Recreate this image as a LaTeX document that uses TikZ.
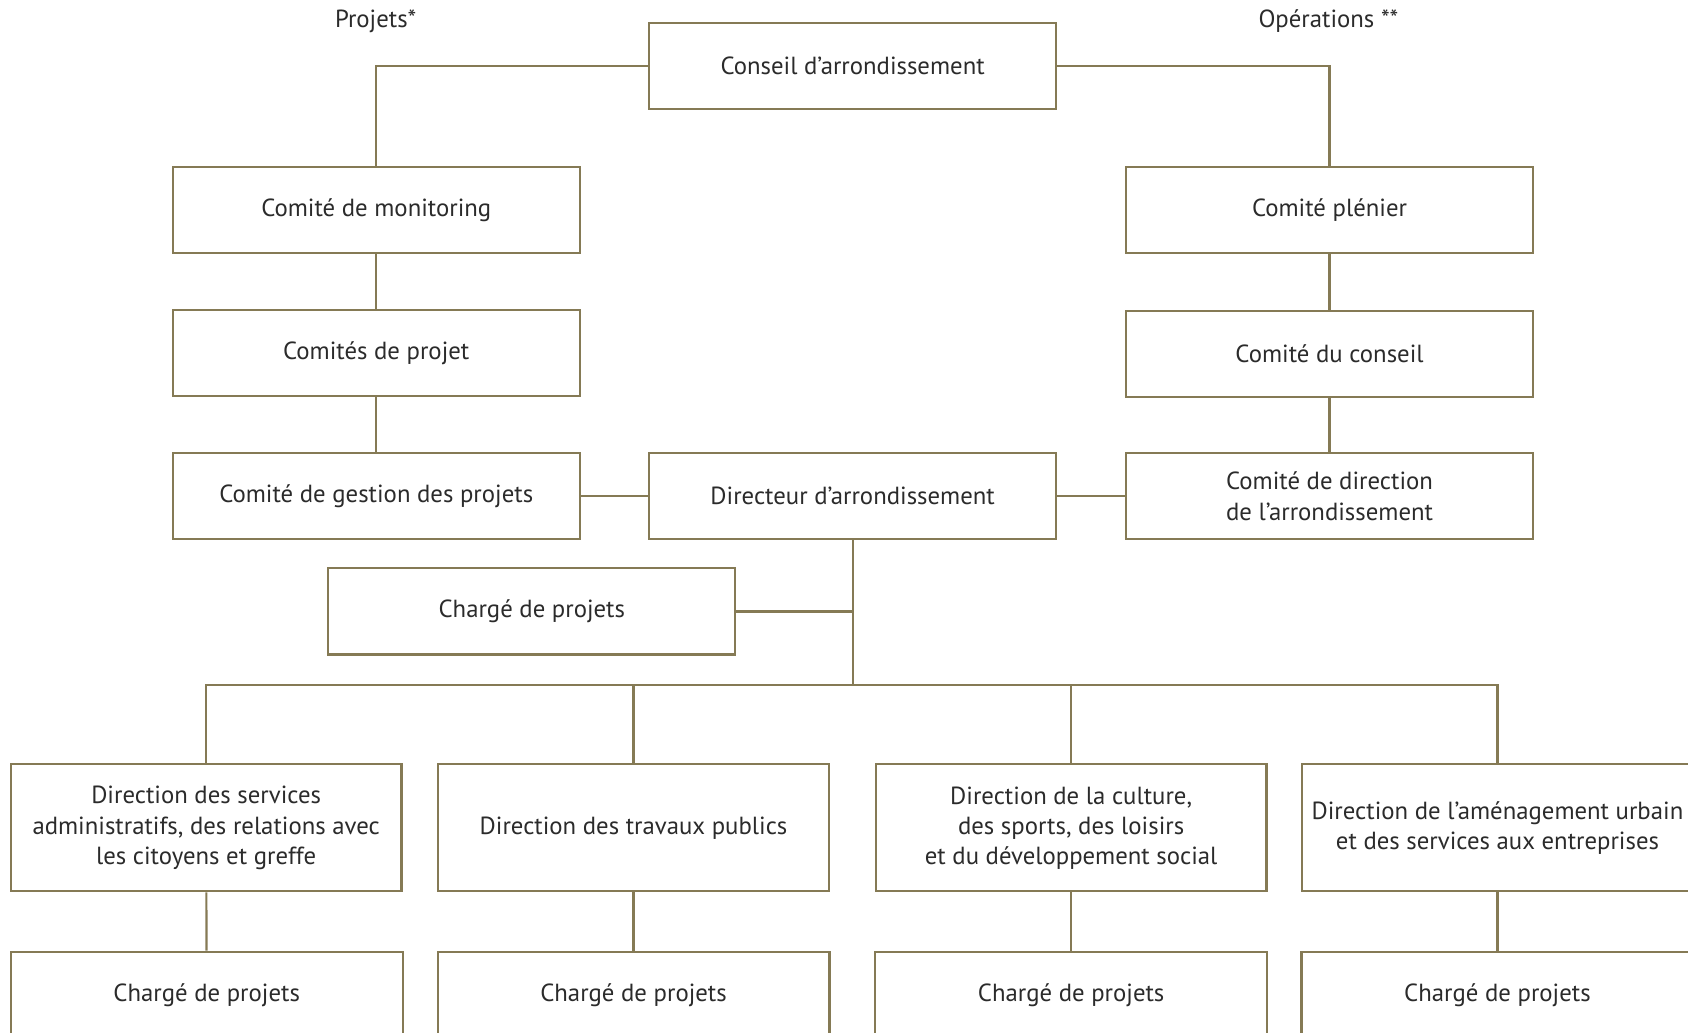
\documentclass[tikz,border=0pt]{standalone}
\usepackage{fontspec}
\setmainfont{PT Sans}
\usepackage{tikz,xcolor}
\usetikzlibrary{positioning}

\definecolor{olive}{HTML}{857A55}
\definecolor{ink}{HTML}{2B2B2B}

\tikzset{
  org/.style={draw=olive, line width=1pt, fill=white, text=ink, inner sep=0pt,
    minimum width=189pt, minimum height=40pt, align=center,
    font=\fontsize{11.5}{14}\selectfont},
  dir/.style={org, minimum width=181.5pt, minimum height=59pt},
  cdp/.style={org, minimum width=182pt},
  head/.style={text=ink, font=\fontsize{11.5}{14}\selectfont},
  link/.style={draw=olive, line width=1pt}
}

\begin{document}
\begin{tikzpicture}[x=0.5pt, y=-0.5pt]
\useasboundingbox (0,0) rectangle (1568,959);

\node[head] (projets) at (349,20) {Projets*};
\node[head] (operations) at (1234,20) {Opérations **};

\node[org] (conseil) at (792,61) {Conseil d'arrondissement};

% projets
\node[org] (monit)   at (349.5,195) {Comité de monitoring};
\node[org] (cprojet) at (349.5,328) {Comités de projet};
\node[org] (gestion) at (349.5,461) {Comité de gestion des projets};

% operations
\node[org] (plenier)  at (1235,195) {Comité plénier};
\node[org] (cconseil) at (1235,329) {Comité du conseil};
\node[org] (cdir)     at (1235,461) {Comité de direction\\de l'arrondissement};

\node[org] (directeur) at (792,461) {Directeur d'arrondissement};
\node[org] (charge)    at (494,568) {Chargé de projets};

\node[dir] (d1) at (191.5,769) {Direction des services\\administratifs, des relations avec\\les citoyens et greffe};
\node[dir] (d2) at (588.5,769) {Direction des travaux publics};
\node[dir] (d3) at (995,769) {Direction de la culture,\\des sports, des loisirs\\et du développement social};
\node[dir] (d4) at (1391,769) {Direction de l'aménagement urbain\\et des services aux entreprises};

\node[cdp] (c1) at (192,924) {Chargé de projets};
\node[cdp] (c2) at (588.5,924) {Chargé de projets};
\node[cdp] (c3) at (995,924) {Chargé de projets};
\node[cdp] (c4) at (1391,924) {Chargé de projets};

\coordinate (bus) at (792,636);

\draw[link] (conseil.west) -| (monit.north);
\draw[link] (conseil.east) -| (plenier.north);
\draw[link] (monit) -- (cprojet) -- (gestion);
\draw[link] (plenier) -- (cconseil) -- (cdir);
\draw[link] (gestion) -- (directeur) -- (cdir);
\draw[link] (directeur.south) -- (bus);
\draw[link] (charge.east) -- (charge.east -| bus);
\draw[link] (d1.north) |- (bus) -| (d4.north);
\draw[link] (d2.north) -- (d2.north |- bus);
\draw[link] (d3.north) -- (d3.north |- bus);

\foreach \d/\c in {d1/c1, d2/c2, d3/c3, d4/c4}
  \draw[link] (\d) -- (\c);

\end{tikzpicture}
\end{document}
